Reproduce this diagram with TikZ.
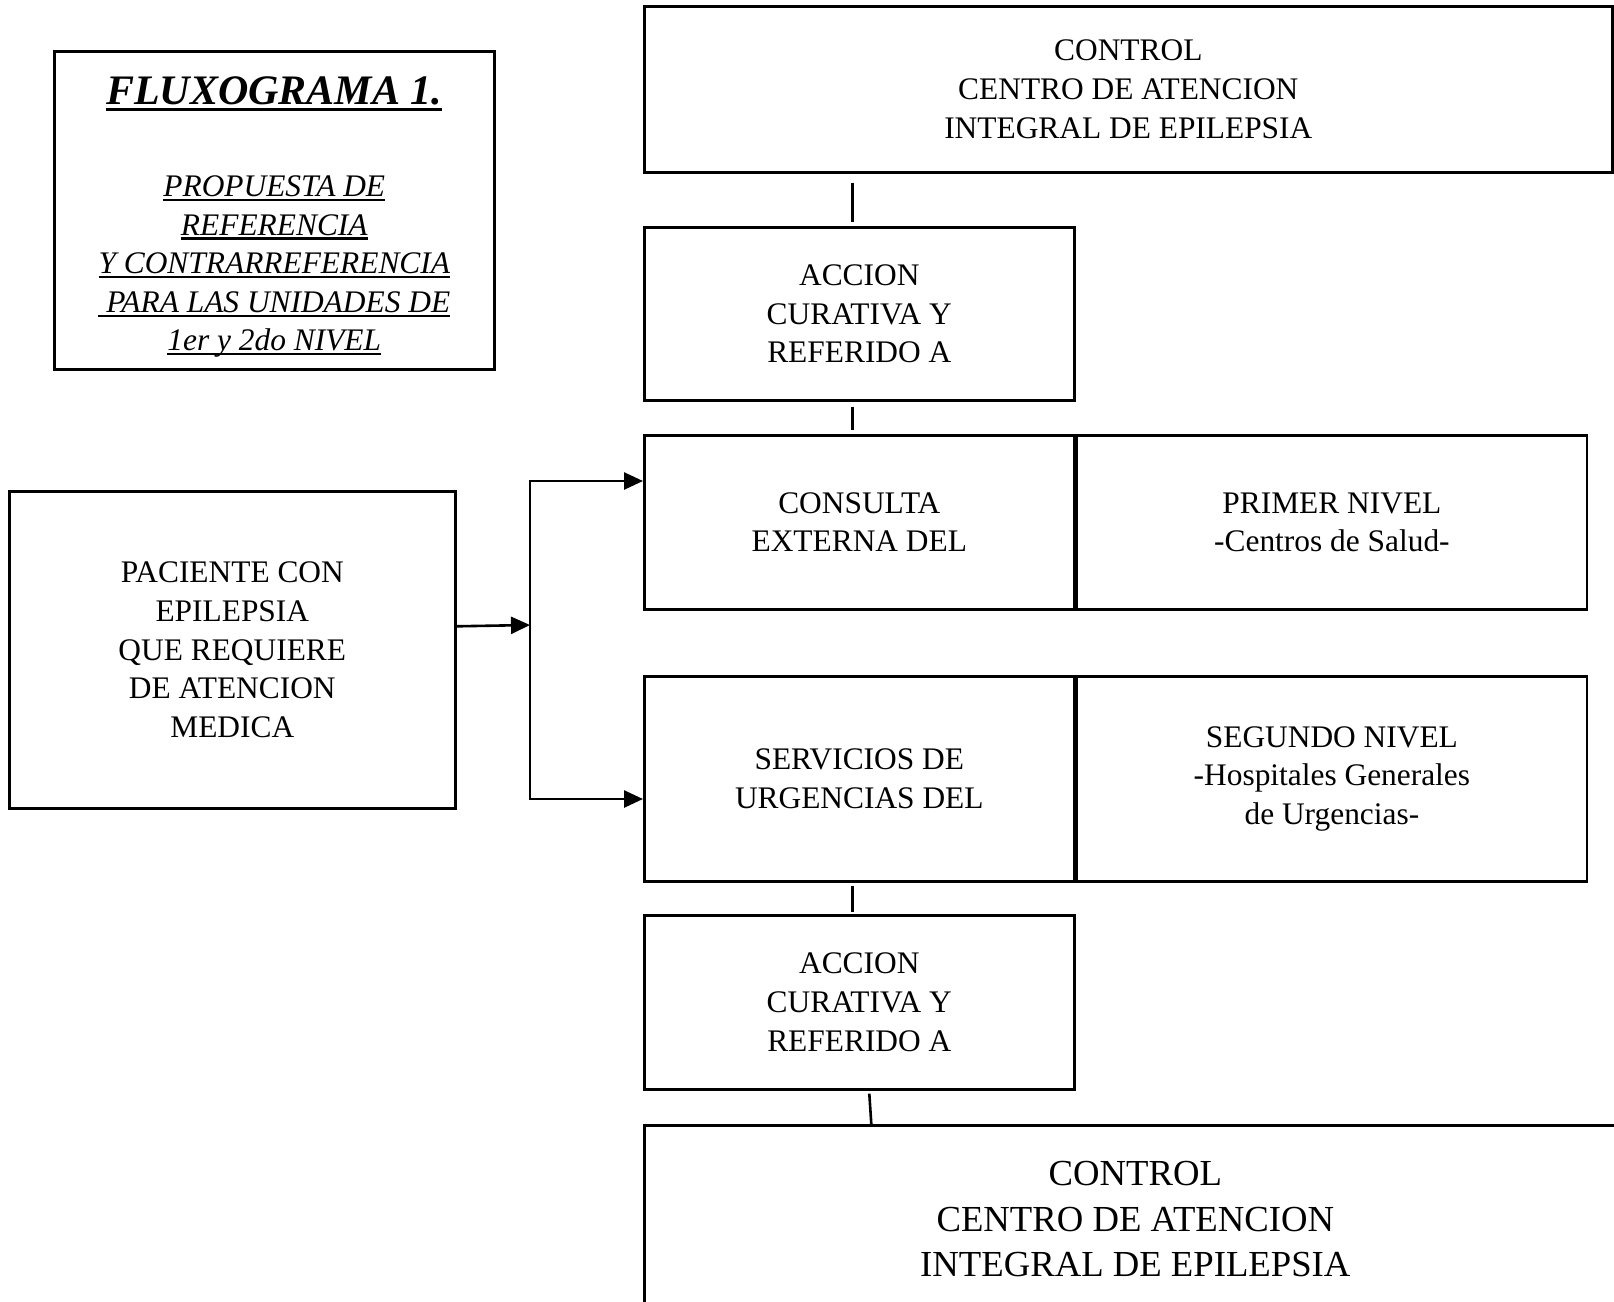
\documentclass[tikz,border=0pt]{standalone}
\usepackage{fontspec}
\setmainfont{Liberation Serif}
\usetikzlibrary{positioning,arrows.meta}

\newcommand{\subraya}[1]{\setbox0\hbox{#1}\rlap{\rule[-0.14em]{\wd0}{0.065em}}\box0}

\tikzset{
    caja/.style={rectangle, draw, line width=2.6pt, anchor=north west, align=center,
        inner sep=0pt, font=\fontsize{31.4}{38.6}\selectfont},
    linea/.style={line width=2.6pt},
}

\begin{document}
\begin{tikzpicture}[x=1pt, y=-1pt, >={Triangle[length=19pt, width=17pt]}]
    \useasboundingbox (0,0) rectangle (1614,1301);
    \clip (0,0) rectangle (1614,1301);

    \node (titulo) [caja, minimum width=440pt, minimum height=318pt,
        font=\fontsize{31.4}{38.6}\selectfont\itshape] at (53,50)
        {{\fontsize{42}{50}\selectfont\bfseries\rule{0pt}{42pt}\subraya{FLUXOGRAMA 1.}}\\[53pt]
         \subraya{PROPUESTA DE}\\ \subraya{REFERENCIA}\\ \subraya{Y CONTRARREFERENCIA}\\
         \subraya{\ PARA LAS UNIDADES DE}\\ \subraya{1er y 2do NIVEL}};
    \node (paciente) [caja, minimum width=446pt, minimum height=317pt] at (8,490)
        {PACIENTE CON\\ EPILEPSIA\\ QUE REQUIERE\\ DE ATENCION\\ MEDICA};

    \node (ctrlarriba) [caja, minimum width=968pt, minimum height=166pt] at (643,5)
        {CONTROL\\ CENTRO DE ATENCION\\ INTEGRAL DE EPILEPSIA};
    \node (accion1) [caja, minimum width=430pt, minimum height=173pt] at (643,226)
        {ACCION\\ CURATIVA Y\\ REFERIDO A};
    \node (consulta) [caja, minimum width=430pt, minimum height=174pt] at (643,434)
        {CONSULTA\\ EXTERNA DEL};
    \node (primer) [caja, minimum width=510pt, minimum height=174pt, right=0pt of consulta]
        {PRIMER NIVEL\\ -Centros de Salud-};
    \node (servicios) [caja, minimum width=430pt, minimum height=205pt] at (643,675)
        {SERVICIOS DE\\ URGENCIAS DEL};
    \node (segundo) [caja, minimum width=510pt, minimum height=205pt, right=0pt of servicios]
        {SEGUNDO NIVEL\\ -Hospitales Generales\\ de Urgencias-};
    \node (accion2) [caja, minimum width=430pt, minimum height=174pt] at (643,914)
        {ACCION\\ CURATIVA Y\\ REFERIDO A};
    \node (ctrlabajo) [caja, minimum width=982pt, minimum height=188pt,
        font=\fontsize{36.7}{45.3}\selectfont] at (643,1124)
        {CONTROL\\ CENTRO DE ATENCION\\ INTEGRAL DE EPILEPSIA};

    \coordinate (rama) at (530,625);
    \coordinate (ramaarriba) at (530,481);
    \coordinate (ramaabajo) at (530,799);

    \draw [->, linea] ([yshift=23.5pt]paciente.east) -- (rama);
    \draw [->, linea] (ramaabajo) -- (ramaarriba) -- (ramaarriba -| consulta.west);
    \draw [->, linea] (ramaarriba) -- (ramaabajo) -- (ramaabajo -| servicios.west);

    \draw [linea] ([xshift=-7pt, yshift=-9pt]ctrlarriba.south -| accion1.north) -- ([xshift=-7pt, yshift=4pt]accion1.north);
    \draw [linea] ([xshift=-7pt, yshift=-5pt]accion1.south) -- ([xshift=-7pt, yshift=4pt]consulta.north);
    \draw [linea] ([xshift=-7pt, yshift=-3pt]servicios.south) -- ([xshift=-7pt, yshift=2pt]accion2.north);
    \draw [linea] ([xshift=10pt, yshift=-3pt]accion2.south) -- ([xshift=12pt]accion2.south |- ctrlabajo.north);
\end{tikzpicture}
\end{document}
